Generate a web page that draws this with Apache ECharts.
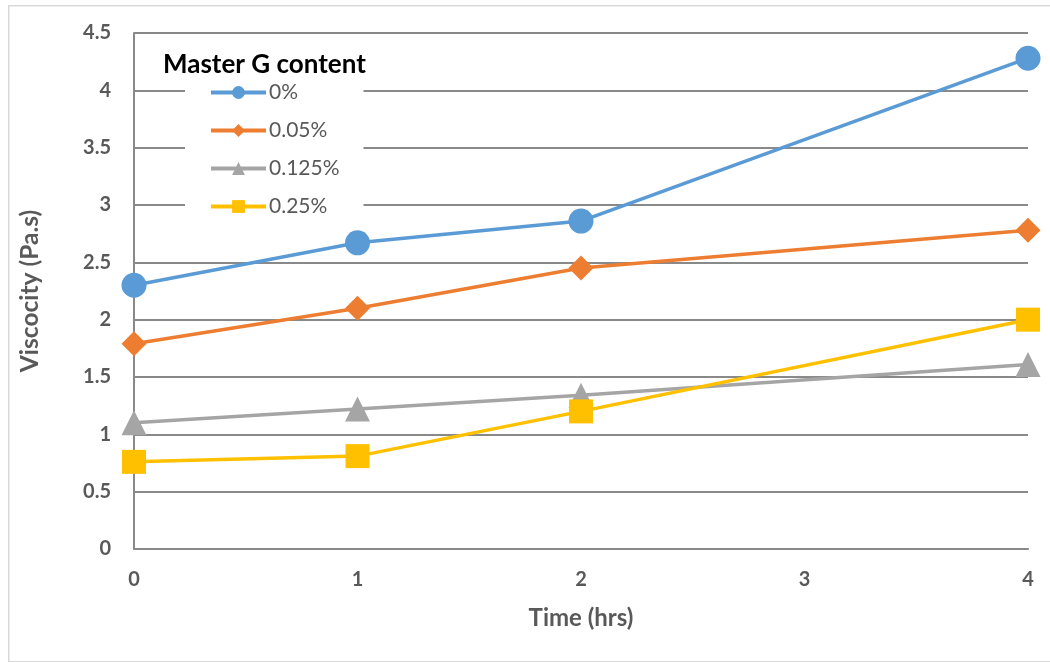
<!DOCTYPE html>
<html>
<head>
<meta charset="utf-8">
<script src="https://cdn.jsdelivr.net/npm/echarts@6/dist/echarts.min.js"></script>
<style>html,body{margin:0;padding:0;background:#fff}#c{width:1050px;height:662px}</style>
</head>
<body>
<div id="c"></div>
<script>
const timeHrs = [0, 1, 2, 4];
const seriesNames = ['0%', '0.05%', '0.125%', '0.25%'];
const visc0 = [2.30, 2.67, 2.86, 4.28];
const visc005 = [1.79, 2.10, 2.45, 2.78];
const visc0125 = [1.10, 1.22, 1.34, 1.61];
const visc025 = [0.76, 0.81, 1.20, 2.00];
const colors = ['#5B9BD5', '#ED7D31', '#A5A5A5', '#FFC000'];
const symbols = ['circle', 'diamond', 'triangle', 'rect'];
const sizes = [25, 25, 25, 24];
const allValues = [visc0, visc005, visc0125, visc025];

const FONT = 'Lato';
const chart = echarts.init(document.getElementById('c'));
chart.setOption({
  animation: false,
  textStyle: { fontFamily: FONT },
  graphic: [{
    type: 'rect', left: 8, top: 5, z: -10,
    shape: { width: 1050, height: 656 },
    style: { fill: '#fff', stroke: '#d9d9d9', lineWidth: 1.5 }
  }],
  title: {
    text: 'Master G content', left: 158, top: 47,
    textStyle: { fontFamily: FONT, fontWeight: 700, fontSize: 26, color: '#000' }
  },
  legend: {
    orient: 'vertical', left: 185, top: 79,
    padding: [3, 24, 3, 24],
    backgroundColor: '#fff',
    itemWidth: 55, itemHeight: 16, itemGap: 17,
    lineStyle: { width: 4 },
    data: seriesNames,
    textStyle: { fontFamily: FONT, fontSize: 21, color: '#595959', padding: [0, 0, 0, -2] }
  },
  grid: { left: 134, right: 22, top: 33, bottom: 113 },
  xAxis: {
    type: 'value', min: 0, max: 4, interval: 1,
    name: 'Time (hrs)', nameLocation: 'middle', nameGap: 57,
    nameTextStyle: { fontFamily: FONT, fontWeight: 700, fontSize: 24, color: '#595959' },
    axisLine: { show: true, lineStyle: { color: '#898989', width: 2 } },
    axisTick: { show: false },
    splitLine: { show: false },
    axisLabel: { margin: 21, fontFamily: FONT, fontWeight: 700, fontSize: 20, color: '#595959' }
  },
  yAxis: {
    type: 'value', min: 0, max: 4.5, interval: 0.5,
    name: 'Viscocity (Pa.s)', nameLocation: 'middle', nameGap: 91,
    nameTextStyle: { fontFamily: FONT, fontWeight: 700, fontSize: 24.5, color: '#595959' },
    axisLine: { show: true, lineStyle: { color: '#898989', width: 2 } },
    axisTick: { show: false },
    splitLine: { show: true, lineStyle: { color: '#898989', width: 2 } },
    axisLabel: { margin: 23, fontFamily: FONT, fontWeight: 700, fontSize: 20, color: '#595959' }
  },
  series: seriesNames.map((n, i) => ({
    name: n, type: 'line',
    data: timeHrs.map((t, j) => [t, allValues[i][j]]),
    symbol: symbols[i], symbolSize: sizes[i],
    lineStyle: { color: colors[i], width: 3.5 },
    itemStyle: { color: colors[i] },
    z: 5 + i
  }))
});
</script>
</body>
</html>
